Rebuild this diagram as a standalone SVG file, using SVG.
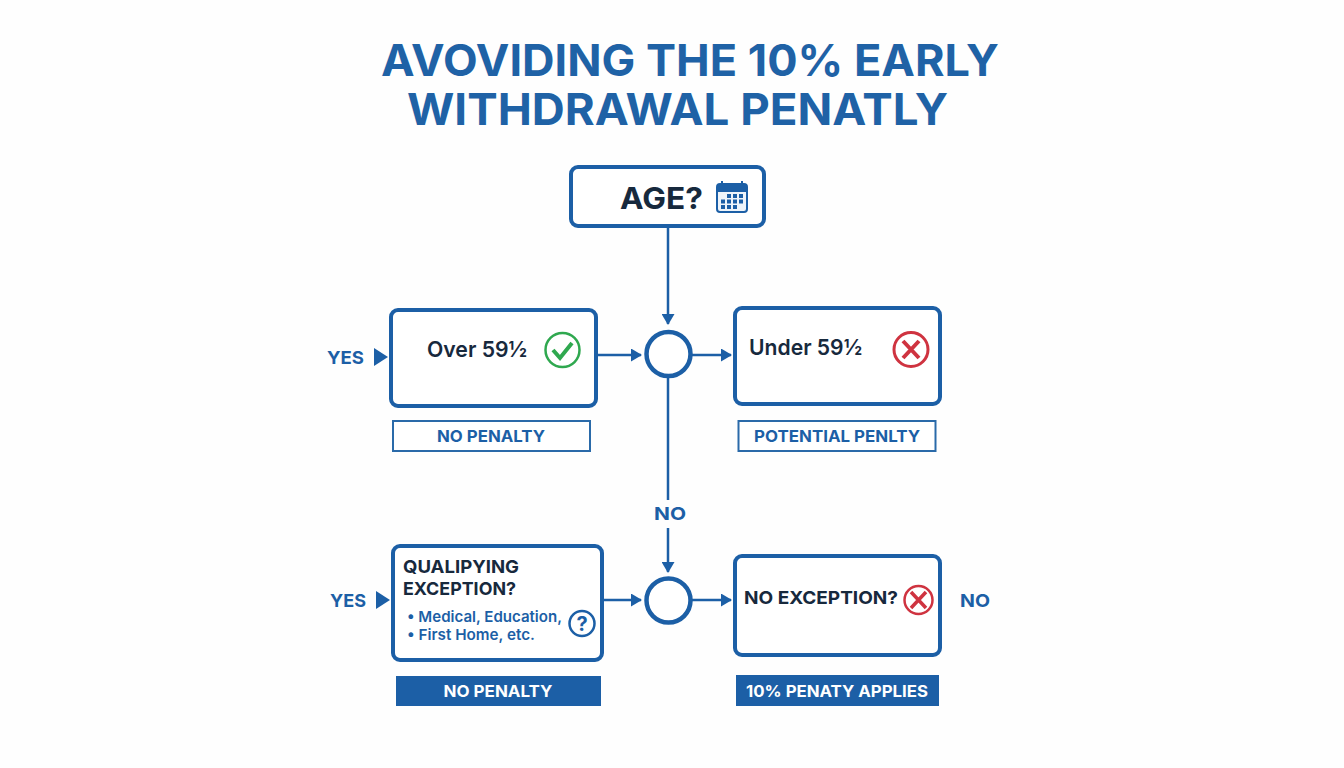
<svg xmlns="http://www.w3.org/2000/svg" width="1344" height="768" viewBox="0 0 1344 768">
<style>
text{font-family:Inter,"Open Sans","Liberation Sans",sans-serif}
.box{fill:#fff;stroke:#1c5fa6;stroke-width:4}
.tag{fill:#fff;stroke:#2a6aa9;stroke-width:2}
.fill{fill:#1c5fa6}
.con{fill:none;stroke:#1c5fa6;stroke-width:2.5}
.circ{fill:#fff;stroke:#1c5fa6;stroke-width:4.5}
.title{font-size:44px;font-weight:700;fill:#1f62a6}
.dark{fill:#17293d;font-weight:700}
.semi{fill:#17293d;font-weight:600;font-size:22px}
.blue{fill:#1c5fa6;font-weight:700}
.item{fill:#1c5fa6;font-weight:600;font-size:15px}
.white{fill:#fff;font-weight:700}
</style>
<defs>
<marker id="arrow" markerUnits="userSpaceOnUse" markerWidth="11" markerHeight="13" refX="10" refY="6.5" orient="auto"><path d="M0 0L11 6.5L0 13Z" fill="#1c5fa6"/></marker>
</defs>
<rect width="1344" height="768" fill="#fefefe"/>
<g id="title">
<text class="title" x="381" y="75.500" textLength="618" lengthAdjust="spacingAndGlyphs">AVOVIDING THE 10% EARLY</text>
<text class="title" x="407" y="124.500" textLength="541" lengthAdjust="spacingAndGlyphs">WITHDRAWAL PENATLY</text>
</g>
<g id="connectors">
<path class="con" d="M668 226V324" marker-end="url(#arrow)"/>
<path class="con" d="M596 355H641" marker-end="url(#arrow)"/>
<path class="con" d="M691 355H731" marker-end="url(#arrow)"/>
<path class="con" d="M668 378V500"/>
<path class="con" d="M668 528V572" marker-end="url(#arrow)"/>
<path class="con" d="M603 600H641" marker-end="url(#arrow)"/>
<path class="con" d="M691 600H731" marker-end="url(#arrow)"/>
</g>
<g id="node-age">
<rect class="box" x="571" y="167" width="193" height="59" rx="7"/>
<text class="dark" x="620" y="209" font-size="30" textLength="83" lengthAdjust="spacingAndGlyphs">AGE?</text>
<rect x="717" y="184" width="30" height="28" rx="3" fill="#eef4fa" stroke="#1c5fa6" stroke-width="2"/>
<path class="fill" d="M717 187a3 3 0 0 1 3-3h24a3 3 0 0 1 3 3v5h-30z"/>
<path d="M722 181v6M742 181v6" stroke="#1c5fa6" stroke-width="2"/>
<g class="fill"><rect x="727" y="194" width="4" height="4"/><rect x="733" y="194" width="4" height="4"/><rect x="739" y="194" width="4" height="4"/><rect x="721" y="199.500" width="4" height="4"/><rect x="727" y="199.500" width="4" height="4"/><rect x="733" y="199.500" width="4" height="4"/><rect x="739" y="199.500" width="4" height="4"/><rect x="721" y="205" width="4" height="4"/><rect x="727" y="205" width="4" height="4"/><rect x="733" y="205" width="4" height="4"/></g>
</g>
<g id="junction-1"><circle class="circ" cx="668.500" cy="354" r="22"/></g>
<g id="junction-2"><circle class="circ" cx="668.500" cy="600.500" r="22"/></g>
<g id="node-over">
<rect class="box" x="391" y="310" width="205" height="96" rx="7"/>
<text class="semi" x="427" y="357" textLength="100" lengthAdjust="spacingAndGlyphs">Over 59½</text>
<circle cx="562.500" cy="350" r="17" fill="none" stroke="#2fa84f" stroke-width="2.500"/>
<path d="M553 350L560 358L572 343" fill="none" stroke="#2fa84f" stroke-width="4"/>
</g>
<g id="tag-no-penalty">
<rect class="tag" x="393" y="421" width="197" height="30"/>
<text class="blue" x="491" y="442" font-size="16" text-anchor="middle" textLength="108" lengthAdjust="spacingAndGlyphs">NO PENALTY</text>
</g>
<g id="label-yes-1">
<text class="blue" x="327" y="364" font-size="18" textLength="37" lengthAdjust="spacingAndGlyphs">YES</text>
<path class="fill" d="M374 348L388 357L374 366Z"/>
</g>
<g id="node-under">
<rect class="box" x="735" y="308" width="205" height="96" rx="7"/>
<text class="semi" x="749" y="355" textLength="113" lengthAdjust="spacingAndGlyphs">Under 59½</text>
<circle cx="911" cy="349.500" r="17" fill="none" stroke="#cf3340" stroke-width="3"/>
<path d="M903 341L919 358M919 341L903 358" stroke="#cf3340" stroke-width="4"/>
</g>
<g id="tag-potential">
<rect class="tag" x="738.500" y="421" width="197" height="30"/>
<text class="blue" x="837" y="442" font-size="16" text-anchor="middle" textLength="166" lengthAdjust="spacingAndGlyphs">POTENTIAL PENLTY</text>
</g>
<text id="label-no-mid" class="blue" x="654" y="520" font-size="18" textLength="32" lengthAdjust="spacingAndGlyphs">NO</text>
<g id="node-exception">
<rect class="box" x="393" y="546" width="209" height="114" rx="7"/>
<text class="dark" x="403" y="573" font-size="18" textLength="116" lengthAdjust="spacingAndGlyphs">QUALIPYING</text>
<text class="dark" x="403" y="595" font-size="18" textLength="113" lengthAdjust="spacingAndGlyphs">EXCEPTION?</text>
<text class="item" x="407" y="622" textLength="155" lengthAdjust="spacingAndGlyphs">• Medical, Education,</text>
<text class="item" x="407" y="640" textLength="128" lengthAdjust="spacingAndGlyphs">• First Home, etc.</text>
<circle cx="582" cy="623.500" r="12.500" fill="none" stroke="#1c5fa6" stroke-width="2.500"/>
<text class="blue" x="582" y="631" font-size="20" text-anchor="middle">?</text>
</g>
<g id="label-yes-2">
<text class="blue" x="330" y="607" font-size="18" textLength="36" lengthAdjust="spacingAndGlyphs">YES</text>
<path class="fill" d="M376 591L390 600L376 609Z"/>
</g>
<g id="tag-no-penalty-2">
<rect class="fill" x="396" y="676" width="205" height="30"/>
<text class="white" x="498" y="697" font-size="16" text-anchor="middle" textLength="109" lengthAdjust="spacingAndGlyphs">NO PENALTY</text>
</g>
<g id="node-no-exception">
<rect class="box" x="735" y="556" width="205" height="99" rx="7"/>
<text class="dark" x="744" y="604" font-size="18" textLength="154" lengthAdjust="spacingAndGlyphs">NO EXCEPTION?</text>
<circle cx="918.500" cy="600" r="14" fill="none" stroke="#cf3340" stroke-width="2.500"/>
<path d="M911 592L926 608M926 592L911 608" stroke="#cf3340" stroke-width="3.500"/>
</g>
<text id="label-no-right" class="blue" x="960" y="607" font-size="18" textLength="30" lengthAdjust="spacingAndGlyphs">NO</text>
<g id="tag-applies">
<rect class="fill" x="736" y="675" width="203" height="31"/>
<text class="white" x="837" y="697" font-size="16" text-anchor="middle" textLength="182" lengthAdjust="spacingAndGlyphs">10% PENATY APPLIES</text>
</g>
</svg>
